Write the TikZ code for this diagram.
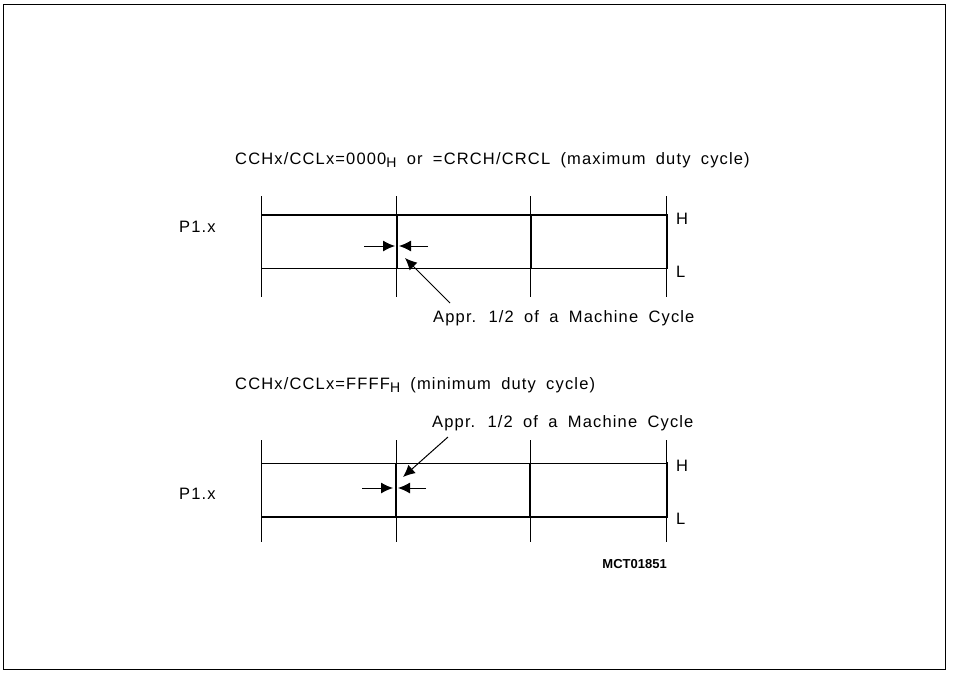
\documentclass[tikz,border=0pt]{standalone}
\usepackage{fontspec}
\setmainfont{Liberation Sans}[LetterSpace=7,WordSpace=1.8]
\usetikzlibrary{arrows.meta}

\begin{document}
\begin{tikzpicture}[x=1pt,y=-1pt,line cap=butt]
	\tikzstyle{grid}=[line width=1pt];
	\tikzstyle{sig}=[line width=2.6pt];
	\tikzstyle{txt}=[inner sep=0pt,font=\fontsize{16.5}{18}\selectfont];
	\tikzstyle{gap}=[line width=1pt,-{Latex[length=12pt,width=11pt]}];
	\useasboundingbox (0,0) rectangle (953,672);
	%% frame
	\draw[line width=1pt] (3,4) rectangle (945,669);
	%% maximum duty cycle
	\node[txt,anchor=west] (titleA) at (235,160) {CCHx/CCLx=0000\raisebox{-0.35ex}{\fontsize{14}{15}\selectfont H} or =CRCH/CRCL (maximum duty cycle)};
	\node[txt,anchor=west] (pinA) at (179,227) {P1.x};
	\node[txt,anchor=west] (hiA) at (676,219) {H};
	\node[txt,anchor=west] (loA) at (676,272) {L};
	\foreach \x in {261,396,530,666} \draw[grid] (\x,196) -- (\x,297);
	\draw[sig] (261,215) -- (667,215) -- (667,269);
	\draw[sig] (397,215) -- (397,269);
	\draw[sig] (531,215) -- (531,269);
	\draw[grid] (261,268) -- (666,268);
	\draw[gap] (364,246) -- (395,246);
	\draw[gap] (428,246) -- (399,246);
	\node[txt,anchor=west] (noteA) at (433,318) {Appr. 1/2 of a Machine Cycle};
	\coordinate (fromA) at (450,303);
	\coordinate (tipA) at (405,258);
	\draw[gap] (fromA) -- (tipA);
	%% minimum duty cycle
	\node[txt,anchor=west] (titleB) at (235,385) {CCHx/CCLx=FFFF\raisebox{-0.35ex}{\fontsize{14}{15}\selectfont H} (minimum duty cycle)};
	\node[txt,anchor=west] (noteB) at (432,423) {Appr. 1/2 of a Machine Cycle};
	\node[txt,anchor=west] (pinB) at (179,494) {P1.x};
	\node[txt,anchor=west] (hiB) at (676,466) {H};
	\node[txt,anchor=west] (loB) at (676,519) {L};
	\foreach \x in {261,396,530,666} \draw[grid] (\x,440) -- (\x,542);
	\draw[grid] (261,463) -- (666,463);
	\draw[sig] (261,517) -- (667,517) -- (667,462);
	\draw[sig] (396,463) -- (396,517);
	\draw[sig] (530,463) -- (530,517);
	\draw[gap] (362,488) -- (393,488);
	\draw[gap] (426,488) -- (398,488);
	\coordinate (fromB) at (448,437);
	\coordinate (tipB) at (403,477);
	\draw[gap] (fromB) -- (tipB);
	\node[inner sep=0pt,anchor=east,font=\fontsize{13}{14}\selectfont\bfseries\addfontfeature{LetterSpace=0}] (code) at (667,564) {MCT01851};
\end{tikzpicture}
\end{document}
